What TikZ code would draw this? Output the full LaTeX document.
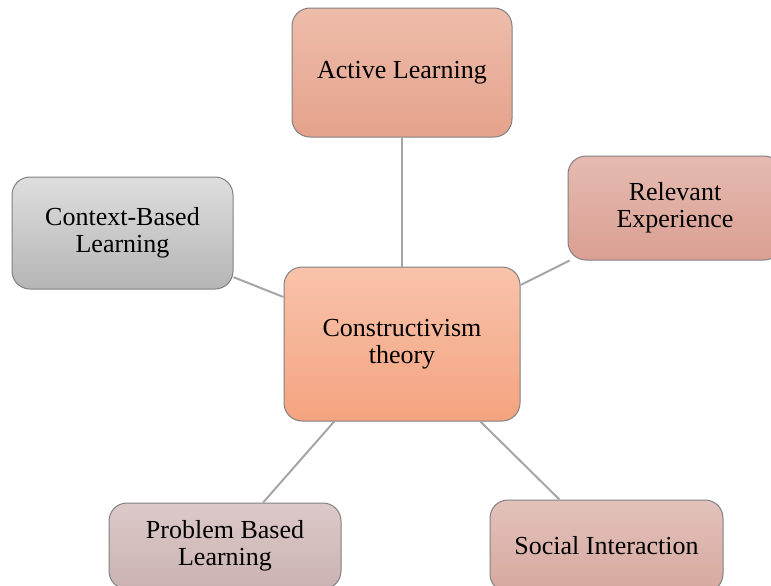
\documentclass[tikz,border=0pt]{standalone}
\usepackage{fontspec}
\setmainfont{Liberation Serif}
\definecolor{activetop}{HTML}{EDBDAA}
\definecolor{activebot}{HTML}{E5A28C}
\definecolor{coretop}{HTML}{F8C3AB}
\definecolor{corebot}{HTML}{F4A37F}
\definecolor{contexttop}{HTML}{DEDEDE}
\definecolor{contextbot}{HTML}{B5B5B5}
\definecolor{relevtop}{HTML}{E6BBB1}
\definecolor{relevbot}{HTML}{DA9F92}
\definecolor{probtop}{HTML}{DCC9C9}
\definecolor{probbot}{HTML}{CBB2B2}
\definecolor{socialtop}{HTML}{E2C2BC}
\definecolor{socialbot}{HTML}{D6A89E}
\begin{document}
\begin{tikzpicture}[x=0.5pt, y=-0.5pt, topic/.style={rectangle, rounded corners=9pt, draw=black!50, line width=0.5pt, align=center, inner sep=2pt, font=\fontsize{13}{13.5}\selectfont}, link/.style={draw=black!35, line width=1pt}]
	\useasboundingbox (0,0) rectangle (771,585);
	\clip (0,0) rectangle (771,585);

	\node[topic, minimum width=110pt, minimum height=64.5pt, top color=activetop, bottom color=activebot] (active) at (402,72.5) {Active Learning};
	\node[topic, minimum width=118pt, minimum height=77pt, top color=coretop, bottom color=corebot] (core) at (402,344) {Constructivism\\theory};
	\node[topic, minimum width=110.5pt, minimum height=56pt, top color=contexttop, bottom color=contextbot] (context) at (122.5,233) {Context-Based\\Learning};
	\node[topic, minimum width=107pt, minimum height=52pt, top color=relevtop, bottom color=relevbot] (relevant) at (675,208) {Relevant\\Experience};
	\node[topic, minimum width=116pt, minimum height=43pt, top color=probtop, bottom color=probbot] (problem) at (225,546) {Problem Based\\Learning};
	\node[topic, minimum width=116.5pt, minimum height=46pt, top color=socialtop, bottom color=socialbot] (social) at (606.5,546) {Social Interaction};

	\draw[link] (active) -- (core);
	\draw[link] (context) -- (core);
	\draw[link] (relevant) -- (core);
	\draw[link] (problem) -- (core);
	\draw[link] (social) -- (core);
\end{tikzpicture}
\end{document}
